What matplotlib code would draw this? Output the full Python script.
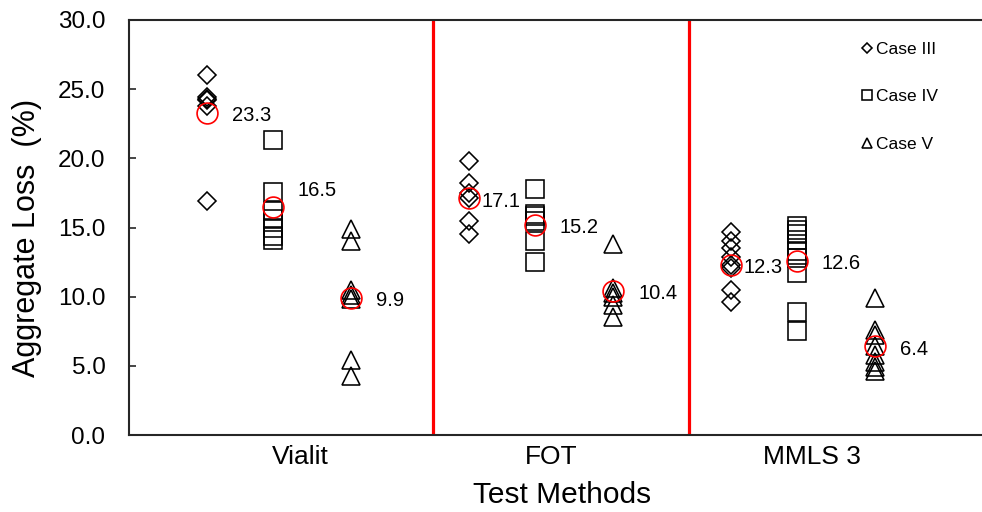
import matplotlib
matplotlib.use("Agg")
import matplotlib.pyplot as plt

plt.rcParams['font.family'] = ['Liberation Sans', 'DejaVu Sans']

methods = ["Vialit", "FOT", "MMLS 3"]
cases = ["Case III", "Case IV", "Case V"]

# aggregate loss (%) per specimen
vialit_iii = [26.0, 24.4, 24.3, 24.2, 23.8, 16.9]
vialit_iv = [21.3, 17.6, 16.2, 15.6, 15.0, 14.4, 14.1]
vialit_v = [14.9, 14.0, 10.5, 10.1, 9.8, 5.4, 4.3]

fot_iii = [19.8, 18.2, 17.5, 17.1, 15.5, 14.5]
fot_iv = [17.8, 16.0, 15.8, 15.5, 14.0, 12.5]
fot_v = [13.8, 10.6, 10.3, 10.0, 9.4, 8.5]

mmls_iii = [14.7, 14.0, 13.5, 12.9, 12.3, 12.1, 10.5, 9.6]
mmls_iv = [15.1, 14.8, 14.5, 14.1, 13.3, 12.8, 11.7, 8.9, 7.5]
mmls_v = [9.9, 7.6, 7.2, 6.4, 5.8, 5.3, 4.9, 4.6]

# averages shown with red circles
vialit_mean = [23.3, 16.5, 9.9]
fot_mean = [17.1, 15.2, 10.4]
mmls_mean = [12.3, 12.6, 6.4]

data = [[vialit_iii, vialit_iv, vialit_v],
        [fot_iii, fot_iv, fot_v],
        [mmls_iii, mmls_iv, mmls_v]]
means = [vialit_mean, fot_mean, mmls_mean]

# layout
method_pos = [0.875, 1.898, 2.921]
case_offset = [-0.257, 0.0, 0.306]
markers = ["D", "s", "^"]
msizes = [9.3, 13, 13]
# label offsets in points (dx, dy)
label_off = [[(18, -2), (18, 12), (18, -2)],
             [(9, -2), (18, -2), (18, -2)],
             [(9, -2), (18, -2), (18, -2)]]

fig = plt.figure(figsize=(9.82, 5.12), dpi=100)
ax = fig.add_axes([129 / 982, 77 / 512, 871 / 982, 415 / 512])

for m in range(len(methods)):
    for c in range(len(cases)):
        vals = data[m][c]
        x = method_pos[m] + case_offset[c]
        ax.plot([x] * len(vals), vals, linestyle="none", marker=markers[c],
                ms=msizes[c], mfc="none", mec="black", mew=1.15,
                label=cases[c] if m == 0 else None)
        mu = means[m][c]
        ax.plot(x, mu, linestyle="none", marker="o", ms=15, mfc="none",
                mec="red", mew=1.2)
        ax.annotate("%.1f" % mu, (x, mu), xytext=label_off[m][c],
                    textcoords="offset points", ha="left", va="center",
                    fontsize=14.5)

for xv in [1.5, 2.5]:
    ax.axvline(xv, color="red", lw=2.3)

ax.set_xlim(0.3125, 3.715)
ax.set_ylim(0, 30)
ax.set_yticks([0, 5, 10, 15, 20, 25, 30])
ax.set_yticklabels(["%.1f" % v for v in [0, 5, 10, 15, 20, 25, 30]])
ax.set_xticks([0.98, 1.96, 2.98])
ax.set_xticklabels(methods)

ax.tick_params(axis="y", direction="in", length=5, width=1.2, pad=17,
               labelsize=17.5, colors="#262626", labelcolor="black")
ax.tick_params(axis="x", length=0, pad=7, labelsize=19)

for s in ["left", "top", "bottom"]:
    ax.spines[s].set_linewidth(1.5)
    ax.spines[s].set_color("#262626")
ax.spines["right"].set_visible(False)

ax.set_ylabel("Aggregate Loss  (%)", fontsize=22)
ax.yaxis.set_label_coords(-0.1, 0.476)
ax.set_xlabel("Test Methods", fontsize=21.5)
ax.xaxis.set_label_coords(0.497, -0.112)

ax.legend(loc="upper left", bbox_to_anchor=(862 / 982, 1 - 42 / 512),
          bbox_transform=fig.transFigure, frameon=False, fontsize=12.5,
          markerscale=0.58, numpoints=1, handlelength=0.6,
          handletextpad=0.2, labelspacing=1.85, borderpad=0,
          borderaxespad=0)

fig.savefig("out.png", dpi=100)
